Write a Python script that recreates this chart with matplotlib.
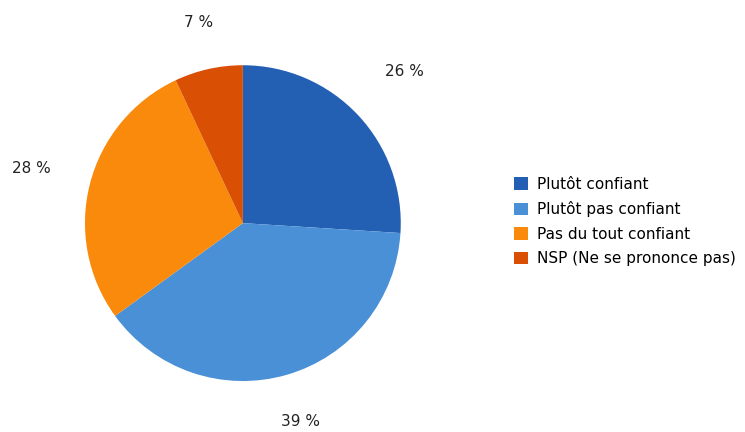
import numpy as np
import matplotlib.pyplot as plt
from matplotlib.patches import Patch

labels = ['Plutôt confiant', 'Plutôt pas confiant', 'Pas du tout confiant', 'NSP (Ne se prononce pas)']
values = [26, 39, 28, 7]
colors = ['#2360b3', '#4a90d6', '#f98a0b', '#d94f03']
label_dist = [1.40, 1.31, 1.38, 1.30]

plt.rcParams['font.family'] = ['DejaVu Sans']

fig = plt.figure(figsize=(7.45, 4.32), dpi=100)
ax = fig.add_axes([0.114, 0.118, 0.424, 0.731])

wedges, _ = ax.pie(values, colors=colors, startangle=90, counterclock=False)
# percentage labels outside the pie
for w, v, d in zip(wedges, values, label_dist):
    ang = np.deg2rad((w.theta1 + w.theta2) / 2)
    ax.text(d * np.cos(ang), d * np.sin(ang), f'{v} %', ha='center', va='center',
            fontsize=11, color='#222222', clip_on=False)
ax.set_xlim(-1, 1)
ax.set_ylim(-1, 1)
ax.set_aspect('equal')

handles = [Patch(facecolor=c, edgecolor='none') for c in colors]
fig.legend(handles, labels, loc='center left', bbox_to_anchor=(0.672, 0.487),
           frameon=False, fontsize=11, handlelength=0.9, handleheight=0.9,
           handletextpad=0.6, labelspacing=0.62)

fig.savefig('out.png', dpi=100)
